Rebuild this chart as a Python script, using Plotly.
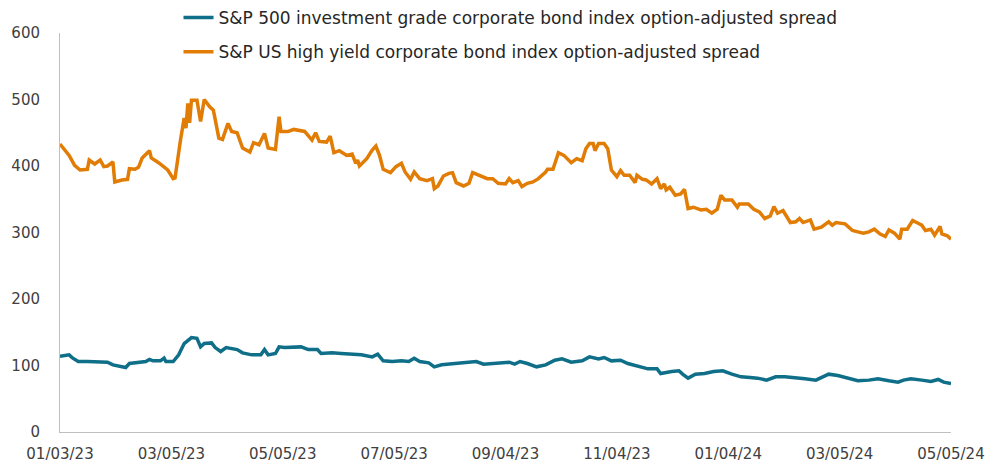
import pandas as pd
import plotly.graph_objects as go

START = "2023-01-03"

# High yield OAS: (day offset from start, value in bp)
hy_days = [0, 5, 8, 11, 15, 16, 19, 22, 24, 26, 29, 30, 34, 37, 38, 41, 43, 45, 49, 50,
           54, 58, 59, 62, 63, 66, 68, 69, 70, 71, 72, 75, 77, 79, 82, 84, 87, 89, 92, 94,
           97, 100, 104, 106, 109, 112, 114, 118, 120, 121, 125, 128, 131, 134, 138, 140, 142, 146, 148, 150,
           153, 157, 160, 162, 163, 164, 168, 171, 173, 175, 177, 181, 184, 187, 189, 192, 194, 197, 201, 204,
           205, 207, 210, 213, 215, 217, 221, 224, 226, 230, 234, 237, 240, 244, 246, 248, 251, 253, 256, 259,
           262, 266, 267, 270, 273, 276, 278, 280, 283, 286, 288, 290, 292, 293, 295, 298, 300, 302, 305, 307,
           309, 312, 315, 316, 319, 321, 324, 327, 329, 331, 332, 334, 337, 340, 342, 344, 347, 351, 354, 357,
           360, 362, 364, 368, 371, 372, 377, 380, 383, 386, 389, 391, 393, 396, 400, 403, 405, 407, 411, 413,
           417, 421, 423, 425, 430, 434, 437, 440, 443, 446, 449, 452, 454, 457, 460, 461, 464, 467, 470, 472,
           474, 477, 479, 482, 483, 486, 488]
hy_vals = [433, 416, 401, 394, 395, 409, 403, 409, 399, 400, 406, 376, 379, 380, 396, 395, 398, 412, 423, 412,
           405, 396, 394, 381, 382, 439, 472, 457, 494, 465, 499, 499, 467, 500, 489, 484, 442, 440, 464, 452,
           450, 427, 421, 435, 432, 449, 427, 425, 474, 452, 452, 455, 453, 452, 439, 450, 437, 436, 445, 420,
           423, 416, 418, 404, 409, 400, 411, 424, 430, 416, 395, 390, 399, 404, 391, 380, 391, 381, 378, 381,
           366, 370, 385, 389, 390, 375, 370, 374, 390, 385, 381, 381, 374, 373, 381, 375, 378, 369, 374, 376,
           381, 391, 395, 395, 420, 416, 410, 405, 411, 408, 426, 434, 434, 423, 434, 434, 426, 394, 384, 393,
           386, 386, 375, 386, 380, 379, 373, 381, 366, 373, 364, 368, 356, 358, 365, 336, 338, 334, 335, 329,
           335, 356, 349, 349, 338, 343, 343, 335, 331, 321, 325, 339, 329, 333, 315, 316, 321, 315, 319, 305,
           308, 316, 311, 315, 313, 303, 301, 299, 301, 305, 298, 294, 304, 299, 290, 305, 305, 318, 314, 311,
           303, 305, 296, 309, 298, 295, 290]

# Investment grade OAS: (day offset from start, value in bp)
ig_days = [0, 5, 7, 10, 15, 21, 26, 29, 33, 36, 38, 43, 47, 49, 51, 55, 57, 58, 62, 65,
           68, 72, 75, 77, 79, 83, 85, 88, 91, 97, 100, 105, 110, 112, 114, 118, 120, 123, 129, 132,
           136, 141, 143, 149, 154, 160, 165, 171, 174, 177, 182, 187, 191, 194, 197, 202, 205, 209, 216, 224,
           228, 232, 238, 246, 249, 252, 256, 261, 266, 271, 275, 280, 286, 290, 295, 298, 302, 307, 311, 317,
           322, 327, 329, 335, 339, 341, 344, 348, 353, 358, 363, 368, 373, 378, 382, 387, 392, 397, 403, 408,
           414, 418, 421, 426, 432, 437, 443, 448, 454, 459, 462, 466, 472, 477, 481, 484, 488]
ig_vals = [114, 116, 111, 106, 106, 105, 105, 101, 99, 97, 103, 104, 106, 109, 107, 107, 111, 106, 106, 116,
           133, 142, 141, 128, 133, 134, 127, 121, 127, 124, 119, 116, 116, 124, 116, 118, 128, 127, 127, 128,
           124, 124, 118, 119, 118, 117, 116, 113, 117, 107, 106, 107, 106, 111, 106, 104, 98, 101, 103, 104,
           106, 102, 103, 105, 102, 106, 103, 98, 101, 108, 110, 105, 107, 113, 110, 112, 107, 108, 103, 98,
           95, 95, 88, 91, 92, 87, 81, 87, 88, 91, 92, 87, 83, 82, 81, 78, 83, 83, 82, 80,
           78, 83, 87, 85, 80, 77, 78, 80, 77, 75, 78, 80, 78, 76, 79, 75, 73]

tick_labels = ["01/03/23", "03/05/23", "05/05/23", "07/05/23", "09/04/23",
               "11/04/23", "01/04/24", "03/05/24", "05/05/24"]
y_ticks = [0, 100, 200, 300, 400, 500, 600]

start = pd.Timestamp(START)
hy_dates = start + pd.to_timedelta(hy_days, unit="D")
ig_dates = start + pd.to_timedelta(ig_days, unit="D")
tick_dates = [pd.to_datetime(t, format="%m/%d/%y") for t in tick_labels]

BLUE = "#0F6F89"
ORANGE = "#E17C05"
FONT = "DejaVu Sans"

fig = go.Figure()
fig.add_trace(go.Scatter(
    x=ig_dates, y=ig_vals, mode="lines",
    name="S&P 500 investment grade corporate bond index option-adjusted spread",
    line=dict(color=BLUE, width=3.5), legend="legend"))
fig.add_trace(go.Scatter(
    x=hy_dates, y=hy_vals, mode="lines",
    name="S&P US high yield corporate bond index option-adjusted spread",
    line=dict(color=ORANGE, width=3.5), legend="legend2"))

legend_common = dict(
    xref="paper", yref="paper", xanchor="left", yanchor="middle",
    bgcolor="rgba(0,0,0,0)", borderwidth=0,
    font=dict(family=FONT, size=17, color="#262626"),
    itemwidth=30,
)

fig.update_layout(
    width=986, height=464,
    margin=dict(l=60, r=35, t=33, b=32, autoexpand=False),
    paper_bgcolor="white", plot_bgcolor="white",
    font=dict(family=FONT, size=15, color="#404040"),
    showlegend=True,
    legend=dict(x=0.133, y=1.038, **legend_common),
    legend2=dict(x=0.133, y=0.952, **legend_common),
    xaxis=dict(
        type="date", automargin=False,
        range=[tick_dates[0], tick_dates[-1]],
        tickmode="array", tickvals=tick_dates, ticktext=tick_labels,
        showgrid=False, zeroline=False,
        showline=True, linecolor="#BFBFBF", linewidth=1,
        ticks="", tickfont=dict(family=FONT, size=15, color="#404040"),
        ticklabelstandoff=8,
    ),
    yaxis=dict(
        automargin=False,
        range=[0, 600], tickvals=y_ticks,
        showgrid=False, zeroline=False,
        showline=True, linecolor="#BFBFBF", linewidth=1,
        ticks="", tickfont=dict(family=FONT, size=15, color="#404040"),
        ticklabelstandoff=16,
    ),
)

fig.write_html("out.html", config={"displayModeBar": False},
               post_script="document.body.style.margin='0';")
